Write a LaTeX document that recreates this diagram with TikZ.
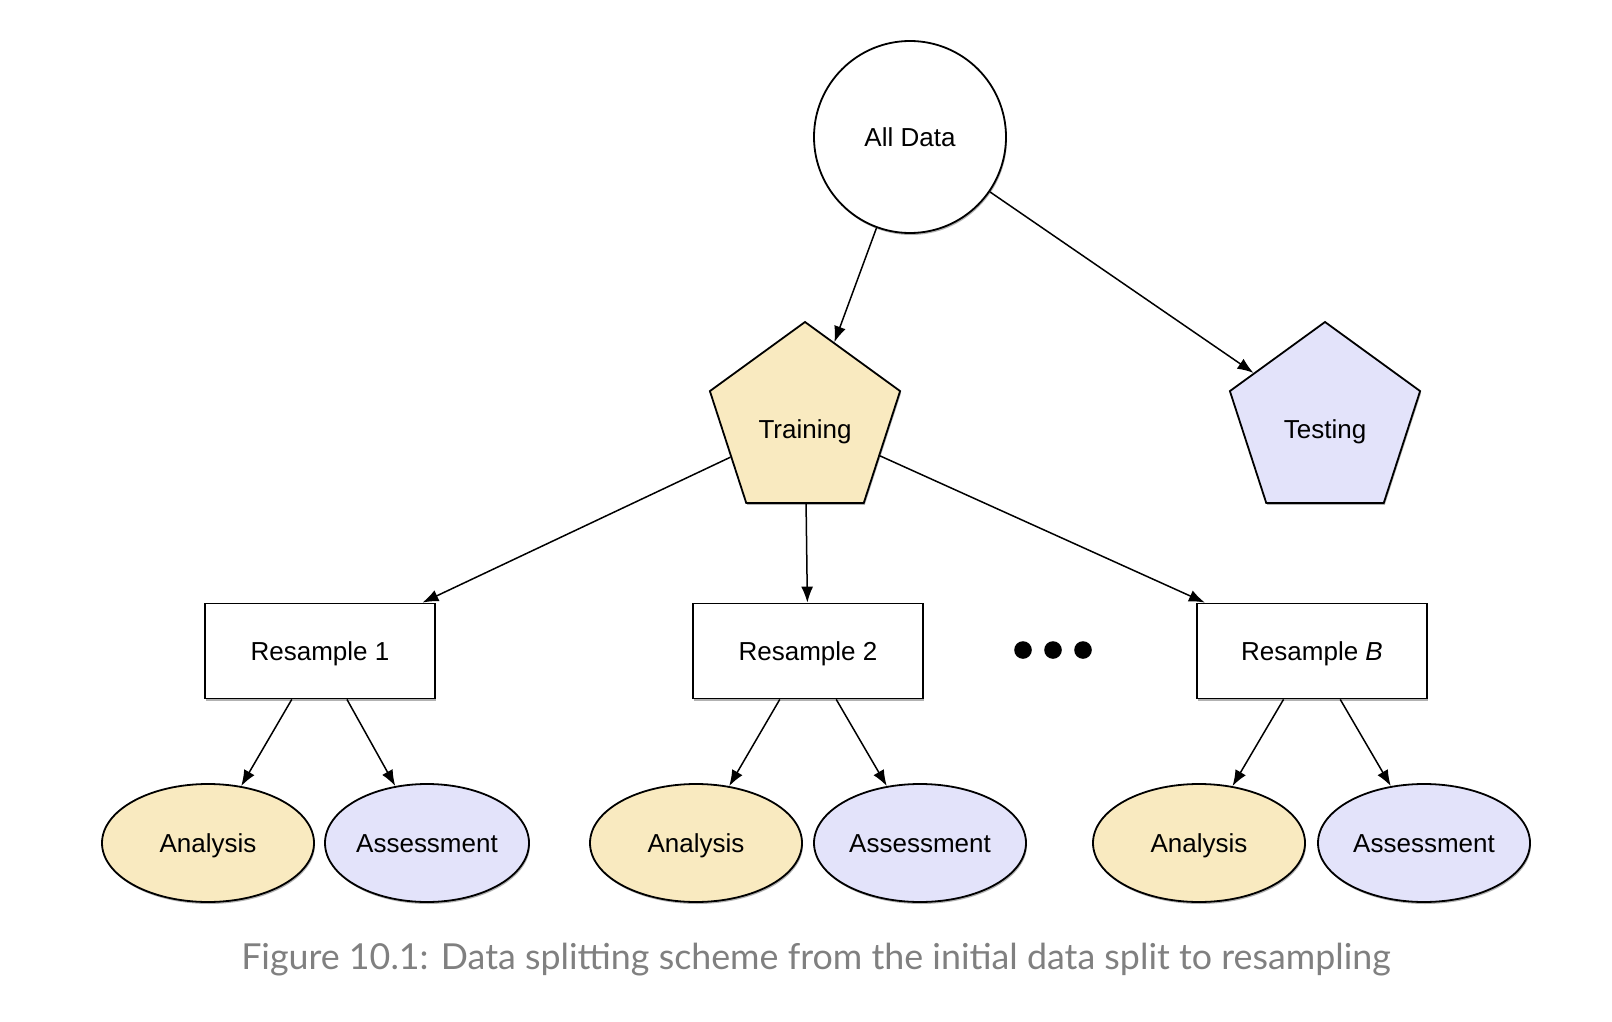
\documentclass[tikz,border=0pt]{standalone}
\usepackage{fontspec}
\setmainfont{Liberation Sans}
\newfontfamily\capfont{Lato}
\usetikzlibrary{shapes.geometric,shadows,arrows.meta}
\definecolor{trainyellow}{RGB}{249,234,192}
\definecolor{testblue}{RGB}{227,227,250}
\definecolor{capgray}{RGB}{128,128,128}
\tikzset{
    softshadow/.style={drop shadow={shadow xshift=0.5pt,shadow yshift=-1pt,opacity=0.3,fill=black}},
    datacircle/.style={circle,draw,line width=0.9pt,fill=white,minimum size=96pt,inner sep=0pt,softshadow},
    splitpent/.style={regular polygon,regular polygon sides=5,draw,line width=0.9pt,minimum size=100pt,inner sep=0pt,text height=16.3pt,softshadow},
    resamplebox/.style={rectangle,draw,line width=0.9pt,fill=white,minimum width=115pt,minimum height=47.5pt,softshadow},
    splitoval/.style={ellipse,draw,line width=0.9pt,minimum width=104pt,minimum height=59pt,inner sep=0pt,softshadow},
    link/.style={line width=0.75pt,-{Latex[length=8pt,width=6pt]}}
}
\begin{document}
\begin{tikzpicture}[x=0.5pt,y=-0.5pt,every node/.style={font=\fontsize{13}{15}\selectfont,text height=9.3pt,text depth=0pt}]
    \useasboundingbox (0,0) rectangle (1612,1022);
    \node[datacircle] (all) at (910,137) {All Data};
    \node[splitpent,fill=trainyellow] (train) at (805,422) {Training};
    \node[splitpent,fill=testblue] (test) at (1325,422) {Testing};
    \node[resamplebox] (rs1) at (320,651) {Resample 1};
    \node[resamplebox] (rs2) at (808,651) {Resample 2};
    \node[resamplebox] (rsb) at (1312,651) {Resample \textit{B}};
    \node[splitoval,fill=trainyellow,minimum width=106pt] (an1) at (208,843) {Analysis};
    \node[splitoval,fill=testblue,minimum width=102pt] (as1) at (427,843) {Assessment};
    \node[splitoval,fill=trainyellow,minimum width=106pt] (an2) at (696,843) {Analysis};
    \node[splitoval,fill=testblue,minimum width=106pt] (as2) at (920,843) {Assessment};
    \node[splitoval,fill=trainyellow,minimum width=106pt] (an3) at (1199,843) {Analysis};
    \node[splitoval,fill=testblue,minimum width=106pt] (as3) at (1424,843) {Assessment};
    % dots between the resamples
    \fill (1023,650) circle (4.4pt);
    \fill (1053,650) circle (4.4pt);
    \fill (1083,650) circle (4.4pt);
    \draw[link] (all) -- (train);
    \draw[link] (all) -- (test);
    \draw[link] (train) -- (rs1);
    \draw[link] (train) -- (rs2);
    \draw[link] (train) -- (rsb);
    \draw[link] (rs1) -- (an1);
    \draw[link] (rs1) -- (as1);
    \draw[link] (rs2) -- (an2);
    \draw[link] (rs2) -- (as2);
    \draw[link] (rsb) -- (an3);
    \draw[link] (rsb) -- (as3);
    \node[font=\capfont\fontsize{17.9}{21}\selectfont,text=capgray,text height=,text depth=] (cap) at (816,960) {Figure 10.1: Data splitting scheme from the initial data split to resampling};
\end{tikzpicture}
\end{document}
